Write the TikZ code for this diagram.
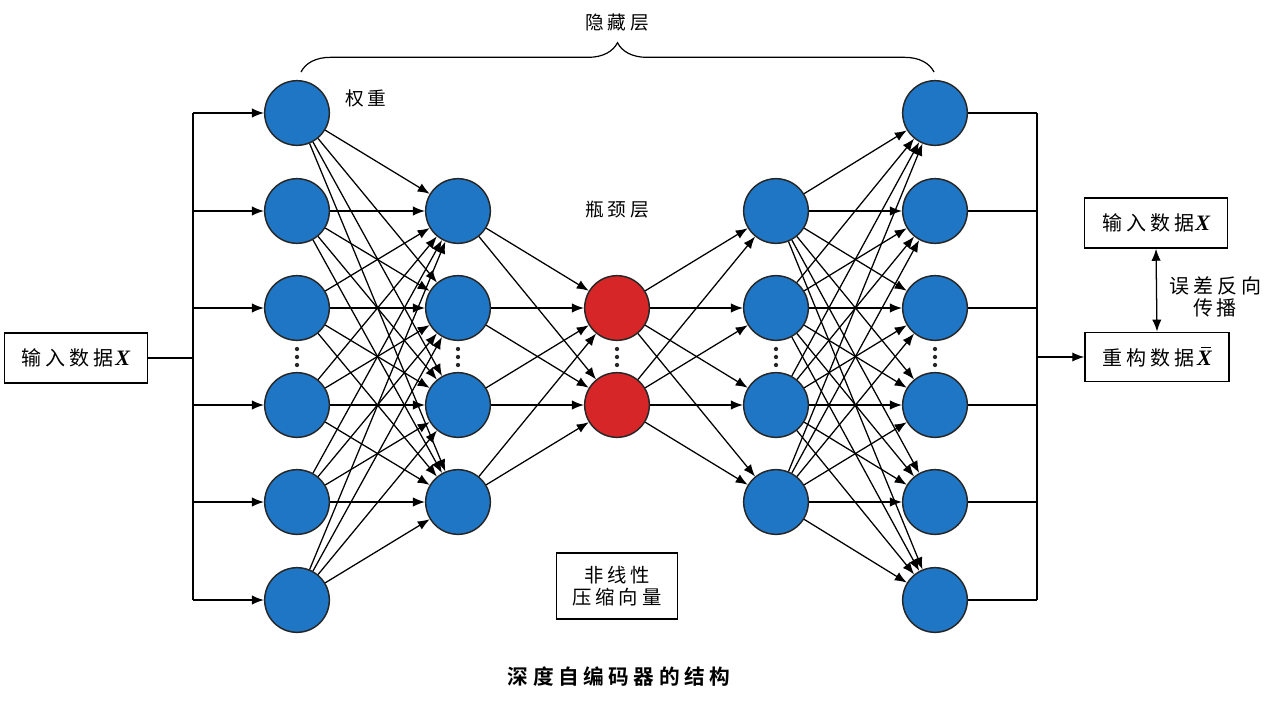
\documentclass[tikz,border=0pt]{standalone}
\usepackage{fontspec}
\setmainfont{Liberation Serif}
\newfontfamily\cjk[LetterSpace=20]{Noto Sans CJK SC}
\newfontfamily\cjkb[LetterSpace=22]{Noto Sans CJK SC Bold}
\usetikzlibrary{arrows.meta,decorations.pathreplacing}
\definecolor{nblue}{RGB}{31,118,196}
\definecolor{nred}{RGB}{214,38,40}
\newcommand{\bX}{\hspace{1pt}{\rmfamily\bfseries\itshape\fontsize{16.5}{18}\selectfont X}}
\newcommand{\bXbar}{\hspace{2pt}{\rmfamily\bfseries\itshape\fontsize{16.5}{18}\selectfont\rlap{\hspace{3.2pt}\rule[12.6pt]{7pt}{0.7pt}}X}}
\begin{document}
\begin{tikzpicture}[x=0.75pt,y=-0.75pt,
  neuron/.style={circle,draw=black!85,line width=1.1pt,fill=nblue,minimum size=48.5pt,inner sep=0pt},
  rneuron/.style={neuron,fill=nred},
  conn/.style={line width=0.95pt,-{Latex[length=9pt,width=7pt]}},
  plain/.style={line width=0.95pt},
  box/.style={draw,line width=1.1pt,rectangle,inner sep=0pt,font=\cjk\fontsize{15}{18}\selectfont,align=center},
  lbl/.style={font=\cjk\fontsize{14}{17}\selectfont,align=center,inner sep=1pt},
  dotc/.style={fill=black!85}
]
\useasboundingbox (0,0) rectangle (1278,704);
\fill[white] (0,0) rectangle (1278,704);

% layers
\foreach \i/\y in {1/113,2/211,3/308,4/405,5/502,6/600}{
  \node[neuron] (a\i) at (297,\y) {};
  \node[neuron] (e\i) at (935,\y) {};
}
\foreach \i/\y in {1/211,2/308,3/405,4/502}{
  \node[neuron] (b\i) at (458,\y) {};
  \node[neuron] (d\i) at (776,\y) {};
}
\node[rneuron] (c1) at (617,308) {};
\node[rneuron] (c2) at (617,405) {};

% dots
\foreach \x in {297,458,617,776,935}{
  \foreach \dy in {349,357,365}{
    \fill[dotc] (\x,\dy) circle (1.6pt);
  }
}

% connections
\foreach \i in {1,...,6}{\foreach \j in {1,...,4}{\draw[conn] (a\i) -- (b\j);}}
\foreach \i in {1,...,4}{\foreach \j in {1,2}{\draw[conn] (b\i) -- (c\j);}}
\foreach \i in {1,2}{\foreach \j in {1,...,4}{\draw[conn] (c\i) -- (d\j);}}
\foreach \i in {1,...,4}{\foreach \j in {1,...,6}{\draw[conn] (d\i) -- (e\j);}}

% input
\node[box,minimum width=107pt,minimum height=37.5pt] (inbox) at (76,358) {输入数据\bX};
\coordinate (inm) at (193,358);
\draw[plain] (inbox.east) -- (inm);
\foreach \i/\y in {1/113,2/211,3/308,4/405,5/502,6/600}{
  \coordinate (in\i) at (193,\y);
  \coordinate (out\i) at (1037,\y);
  \draw[conn] (in\i) -- (a\i);
  \draw[plain] (e\i) -- (out\i);
}
\draw[plain] (in1) -- (in6);
\draw[plain] (out1) -- (out6);

% output boxes
\node[box,minimum width=107pt,minimum height=37.5pt] (orig) at (1156,223) {输入数据\bX};
\node[box,minimum width=108pt,minimum height=37pt] (rec) at (1157,357) {重构数据\bXbar};
\coordinate (outm) at (1037,357);
\draw[conn] (outm) -- (rec.west);
\draw[line width=0.95pt,{Latex[length=9pt,width=7pt]}-{Latex[length=9pt,width=7pt]}] (orig.south) -- (rec.north);
\node[lbl,font=\cjk\fontsize{15}{16.5}\selectfont] (bp) at (1215,297) {误差反向\\传播};

% labels
\node[lbl] (wt) at (366,98) {权重};
\node[lbl] (bn) at (617,210) {瓶颈层};
\node[box,minimum width=91pt,minimum height=49.5pt,font=\cjk\fontsize{14.5}{17}\selectfont] (vec) at (617,586) {非线性\\压缩向量};

% brace
\coordinate (bl) at (301,72);
\coordinate (br) at (934,72);
\draw[line width=0.9pt,decorate,decoration={brace,amplitude=22pt}] (bl) -- (br);
\node[lbl] (hid) at (617,22) {隐藏层};

% title
\node[font=\cjkb\fontsize{15.5}{18}\selectfont,inner sep=1pt] (title) at (619,677) {深度自编码器的结构};
\end{tikzpicture}
\end{document}
